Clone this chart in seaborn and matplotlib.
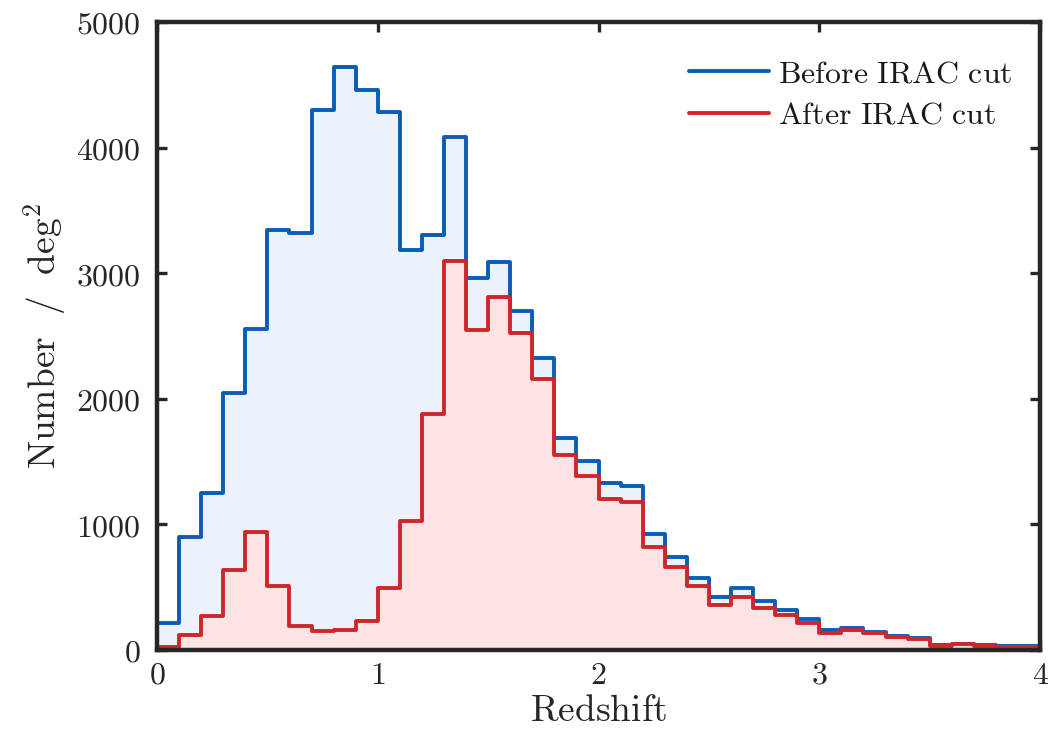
import pandas as pd
import matplotlib
matplotlib.use("Agg")
import matplotlib.pyplot as plt
from matplotlib.lines import Line2D
from matplotlib.ticker import FuncFormatter
import seaborn as sns

# redshift bins of width 0.1 between 0 and 4
edges = [round(0.1 * i, 1) for i in range(41)]
centres = [round(e + 0.05, 2) for e in edges[:-1]]

before_cut = [217, 899, 1249, 2050, 2553, 3340, 3320, 4299, 4643, 4458,
              4286, 3183, 3302, 4082, 2963, 3087, 2698, 2325, 1688, 1508,
              1328, 1304, 921, 741, 577, 423, 495, 392, 317, 246,
              159, 177, 145, 108, 95, 36, 47, 36, 28, 28]
after_cut = [26, 119, 270, 640, 939, 508, 193, 151, 159, 230,
             495, 1024, 1876, 3095, 2550, 2812, 2521, 2161, 1553, 1389,
             1204, 1177, 820, 661, 508, 357, 423, 336, 280, 212,
             132, 159, 138, 101, 90, 34, 45, 34, 26, 26]
labels = ["Before IRAC cut", "After IRAC cut"]

df = pd.DataFrame({"z": centres, "before": before_cut, "after": after_cut})

sns.set_style("ticks")
plt.rcParams["mathtext.fontset"] = "cm"
plt.rcParams["font.family"] = ["DejaVu Serif"]

blue, red = "#0a5db5", "#cf262c"
blue_fill, red_fill = "#ecf2fb", "#fde3e3"

fig = plt.figure(figsize=(10.53, 7.43), dpi=100)
ax = fig.add_axes([0.1491, 0.1252, 0.8386, 0.8452])

sns.histplot(data=df, x="z", weights="before", bins=edges, element="step", fill=True,
             facecolor=blue_fill, edgecolor=blue, linewidth=2.8, alpha=1, ax=ax)
sns.histplot(data=df, x="z", weights="after", bins=edges, element="step", fill=True,
             facecolor=red_fill, edgecolor=red, linewidth=2.8, alpha=1, ax=ax)

ax.set_xlim(0, 4)
ax.set_ylim(0, 5000)
ax.set_xticks([0, 1, 2, 3, 4])
ax.set_yticks([0, 1000, 2000, 3000, 4000, 5000])
fmt = FuncFormatter(lambda v, p: r"$%d$" % v)
ax.xaxis.set_major_formatter(fmt)
ax.yaxis.set_major_formatter(fmt)
ax.tick_params(direction="in", length=7, width=2.4, labelsize=23, colors="#262626",
               top=True, right=True, pad=7)
ax.tick_params(axis="y", pad=12)
for s in ax.spines.values():
    s.set_linewidth(3.2)
    s.set_color("#262626")
    s.set_zorder(5)

ax.set_xlabel(r"$\mathrm{Redshift}$", fontsize=27, color="#262626", labelpad=2)
ax.set_ylabel(r"$\mathrm{Number\ \ /\ \ deg^2}$", fontsize=27, color="#262626", labelpad=5)

handles = [Line2D([], [], color=blue, lw=2.8), Line2D([], [], color=red, lw=2.8)]
leg = ax.legend(handles, [r"$\mathrm{%s}$" % l.replace(" ", r"\ ") for l in labels],
                loc="upper right", bbox_to_anchor=(1.0, 0.985), frameon=False,
                fontsize=23, handlelength=2.5, handletextpad=0.3, labelspacing=0.32,
                borderaxespad=0.45)
for t in leg.get_texts():
    t.set_color("#1a1a1a")

fig.savefig("out.png", dpi=100, facecolor="white")
